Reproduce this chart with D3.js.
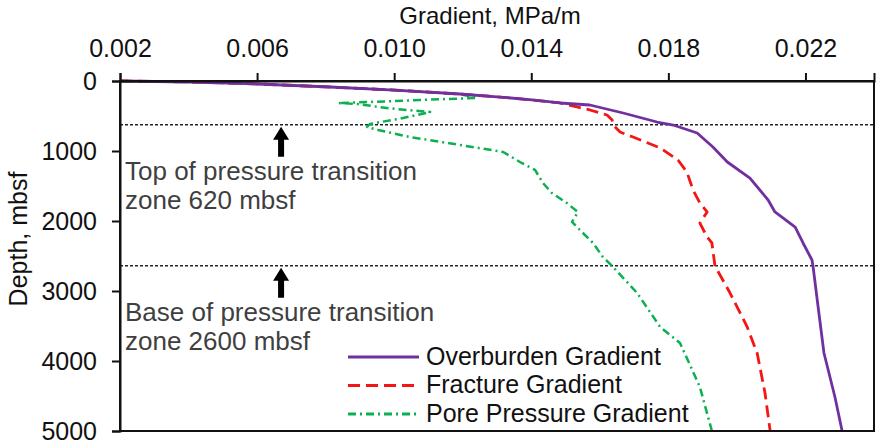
<!DOCTYPE html>
<html>
<head>
<meta charset="utf-8">
<script src="https://cdn.jsdelivr.net/npm/d3@7"></script>
<style>
  body { margin: 0; background: #fff; }
  svg { display: block; font-family: "Liberation Sans", Arial, sans-serif; }
</style>
</head>
<body>
<div id="chart"></div>
<script>
// Données (gradient MPa/m, profondeur mbsf)
const obGradient = [0.002, 0.00404, 0.00603, 0.00813, 0.0100, 0.01192, 0.01309, 0.01402, 0.01484, 0.01571, 0.01668, 0.01767, 0.01814, 0.01884, 0.0193, 0.01972, 0.02038, 0.02091, 0.02111, 0.0217, 0.02193, 0.02219, 0.02222, 0.02237, 0.02254, 0.02286, 0.02307];
const obDepth    = [0, 14, 43, 86, 129, 186, 229, 271, 314, 343, 457, 586, 629, 743, 943, 1157, 1386, 1700, 1871, 2086, 2314, 2557, 2643, 3229, 3886, 4514, 5000];

const fgGradient = [0.002, 0.00404, 0.00603, 0.00813, 0.0100, 0.01192, 0.01309, 0.01402, 0.01484, 0.01533, 0.01571, 0.01621, 0.01636, 0.01639, 0.01659, 0.01697, 0.01776, 0.01828, 0.01854, 0.01872, 0.01892, 0.01913, 0.01892, 0.01913, 0.01927, 0.01936, 0.0198, 0.0203, 0.02059, 0.02082, 0.02097];
const fgDepth    = [0, 14, 43, 86, 129, 186, 229, 271, 314, 371, 414, 486, 557, 629, 729, 800, 957, 1129, 1300, 1557, 1743, 1871, 2029, 2229, 2314, 2643, 3029, 3514, 3886, 4457, 5000];

const ppGradient = [0.002, 0.00404, 0.00603, 0.00813, 0.0100, 0.01192, 0.01242, 0.01075, 0.00929, 0.00836, 0.00892, 0.00979, 0.01037, 0.01105, 0.01026, 0.00929, 0.00921, 0.00953, 0.01046, 0.01192, 0.01318, 0.01367, 0.01411, 0.01434, 0.0146, 0.01504, 0.01536, 0.01519, 0.01542, 0.0158, 0.01609, 0.01636, 0.01709, 0.01776, 0.01834, 0.01892, 0.01927];
const ppDepth    = [0, 14, 43, 86, 129, 186, 243, 271, 300, 314, 329, 386, 414, 443, 529, 614, 657, 700, 800, 914, 1014, 1157, 1271, 1457, 1600, 1743, 1871, 2014, 2129, 2314, 2514, 2643, 3029, 3514, 3743, 4371, 5000];

const xTicks = [0.002, 0.006, 0.010, 0.014, 0.018, 0.022];
const yTicks = [0, 1000, 2000, 3000, 4000, 5000];

const zoneDepths = [625, 2640];
const zoneLabels = [["Top of pressure transition", "zone 620 mbsf"], ["Base of pressure transition", "zone 2600 mbsf"]];

const seriesNames = ["Overburden Gradient", "Fracture Gradient", "Pore Pressure Gradient"];

const W = 879, H = 442;
const margin = { top: 81, right: 5, bottom: 11, left: 120 };

const svg = d3.select("#chart").append("svg")
  .attr("width", W).attr("height", H);

const x = d3.scaleLinear().domain([0.002, 0.024]).range([margin.left, W - margin.right]);
const y = d3.scaleLinear().domain([0, 5000]).range([margin.top, H - margin.bottom]);

const series = [
  { name: seriesNames[0], g: obGradient, d: obDepth, color: "#7030A0", dash: null, w: 2.8 },
  { name: seriesNames[1], g: fgGradient, d: fgDepth, color: "#F41515", dash: "12,6", w: 2.8 },
  { name: seriesNames[2], g: ppGradient, d: ppDepth, color: "#0CB050", dash: "8,4,2,4", w: 2.5 }
];

// Lignes pointillées des zones
svg.selectAll(".zone")
  .data(zoneDepths)
  .enter().append("line")
  .attr("x1", x(0.002)).attr("x2", x(0.024))
  .attr("y1", d => y(d)).attr("y2", d => y(d))
  .attr("stroke", "#222")
  .attr("stroke-width", 1.4)
  .attr("stroke-dasharray", "3,2");

// Courbes (ordre : pores, fracture, surcharge)
const line = d3.line().x(p => x(p[0])).y(p => y(p[1]));
series.slice().reverse().forEach(s => {
  svg.append("path")
    .datum(s.g.map((v, i) => [v, s.d[i]]))
    .attr("d", line)
    .attr("fill", "none")
    .attr("stroke", s.color)
    .attr("stroke-width", s.w)
    .attr("stroke-dasharray", s.dash)
    .attr("stroke-linejoin", "round");
});

// Cadre
svg.append("rect")
  .attr("x", x(0.002)).attr("y", y(0))
  .attr("width", x(0.024) - x(0.002)).attr("height", y(5000) - y(0))
  .attr("fill", "none").attr("stroke", "#111").attr("stroke-width", 2);

// Axe du haut
svg.append("g")
  .attr("transform", `translate(0,${y(0)})`)
  .call(d3.axisTop(x).tickValues(xTicks).tickFormat(d3.format(".3f")).tickSize(8).tickPadding(16))
  .call(ax => ax.select(".domain").attr("stroke", "#111").attr("stroke-width", 2))
  .call(ax => ax.selectAll("line").attr("stroke", "#111").attr("stroke-width", 2))
  .selectAll("text")
  .attr("fill", "#111")
  .attr("font-size", "25px")
  .attr("font-family", "Liberation Sans, Arial, sans-serif");

// Axe de gauche
svg.append("g")
  .attr("transform", `translate(${x(0.002)},0)`)
  .call(d3.axisLeft(y).tickValues(yTicks).tickFormat(d3.format("d")).tickSize(8).tickPadding(15))
  .call(ax => ax.select(".domain").attr("stroke", "#111").attr("stroke-width", 2))
  .call(ax => ax.selectAll("line").attr("stroke", "#111").attr("stroke-width", 2))
  .selectAll("text")
  .attr("fill", "#111")
  .attr("font-size", "25px")
  .attr("font-family", "Liberation Sans, Arial, sans-serif");

// Titres des axes
svg.append("text")
  .attr("x", 490).attr("y", 24)
  .attr("text-anchor", "middle")
  .attr("font-size", "24px")
  .attr("fill", "#111")
  .text("Gradient, MPa/m");

svg.append("text")
  .attr("transform", "translate(27,239) rotate(-90)")
  .attr("text-anchor", "middle")
  .attr("font-size", "25px")
  .attr("fill", "#111")
  .text("Depth, mbsf");

// Flèches et annotations
const arrowX = 0.0067;
zoneDepths.forEach((dz, i) => {
  const ax = x(arrowX);
  const tip = y(dz) + 2;
  const tail = tip + 30;
  svg.append("path")
    .attr("d", `M${ax},${tip} L${ax + 8},${tip + 13} L${ax + 3},${tip + 13} L${ax + 3},${tail} L${ax - 3},${tail} L${ax - 3},${tip + 13} L${ax - 8},${tip + 13} Z`)
    .attr("fill", "#000");

  const t = svg.append("text")
    .attr("x", x(0.002) + 5)
    .attr("y", tail + 23)
    .attr("font-size", "26px")
    .attr("fill", "#3f3f3f");
  zoneLabels[i].forEach((s, j) => {
    t.append("tspan").attr("x", x(0.002) + 5).attr("dy", j === 0 ? 0 : 29).text(s);
  });
});

// Légende
const legend = svg.append("g").attr("transform", "translate(348,357)");
series.forEach((s, i) => {
  const gy = i * 28.5;
  legend.append("line")
    .attr("x1", 0).attr("x2", 71)
    .attr("y1", gy).attr("y2", gy)
    .attr("stroke", s.color)
    .attr("stroke-width", s.w + 0.4)
    .attr("stroke-dasharray", s.dash);
  legend.append("text")
    .attr("x", 78).attr("y", gy)
    .attr("dy", "0.3em")
    .attr("font-size", "25px")
    .attr("fill", "#111")
    .text(s.name);
});
</script>
</body>
</html>
